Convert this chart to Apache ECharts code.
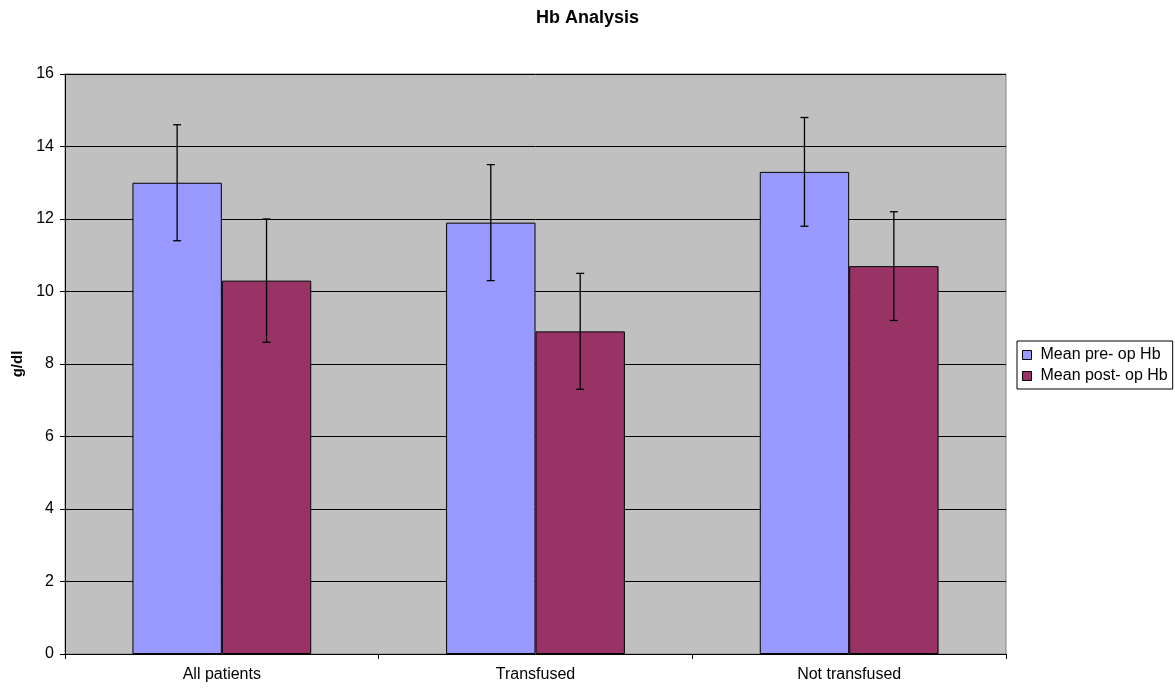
<!DOCTYPE html>
<html><head><meta charset="utf-8">
<script src="https://cdn.jsdelivr.net/npm/echarts@6/dist/echarts.min.js"></script>
<style>html,body{margin:0;padding:0;background:#fff}#c{width:1175px;height:688px}</style>
</head><body><div id="c"></div>
<script>
const categories = ['All patients', 'Transfused', 'Not transfused'];
const preOp = [13.0, 11.9, 13.3];
const preErr = [1.6, 1.6, 1.5];
const postOp = [10.3, 8.9, 10.7];
const postErr = [1.7, 1.6, 1.5];
const seriesNames = ['Mean pre- op Hb', 'Mean post- op Hb'];
const colors = ['#9999FF', '#993366'];
const CAT_GAP = 0.43;

const chart = echarts.init(document.getElementById('c'));
const FONT = 'Liberation Sans, Arial, sans-serif';

function errSeries(vals, errs, idx) {
  return {
    type: 'custom',
    z: 10,
    silent: true,
    data: vals.map((v, i) => [i, v, errs[i]]),
    renderItem: function (params, api) {
      const i = api.value(0), v = api.value(1), e = api.value(2);
      const band = api.size([1, 0])[0];
      const bw = band * (1 - CAT_GAP) / 2;
      const c = api.coord([i, v]);
      const x = c[0] + (idx === 0 ? -bw / 2 : bw / 2);
      const yt = api.coord([i, v + e])[1];
      const yb = api.coord([i, v - e])[1];
      const cap = 4;
      const st = { stroke: '#000', lineWidth: 1.3 };
      return { type: 'group', children: [
        { type: 'line', shape: { x1: x, y1: yt, x2: x, y2: yb }, style: st },
        { type: 'line', shape: { x1: x - cap, y1: yt, x2: x + cap, y2: yt }, style: st },
        { type: 'line', shape: { x1: x - cap, y1: yb, x2: x + cap, y2: yb }, style: st }
      ]};
    }
  };
}

chart.setOption({
  animation: false,
  textStyle: { fontFamily: FONT },
  title: { text: 'Hb Analysis', left: 'center', top: 4,
    textStyle: { fontSize: 18, fontWeight: 'bold', color: '#000', fontFamily: FONT } },
  grid: { left: 65, right: 169, top: 74, bottom: 34, show: true,
    backgroundColor: '#C0C0C0', borderColor: '#808080', borderWidth: 1 },
  legend: {
    orient: 'vertical', left: 1017, top: 341,
    data: seriesNames,
    borderColor: '#000', borderWidth: 1, padding: [5, 5, 4, 5],
    itemWidth: 9, itemHeight: 9, itemGap: 3, icon: 'rect',
    itemStyle: { borderColor: '#000', borderWidth: 1 },
    textStyle: { fontSize: 16, color: '#000', fontFamily: FONT, padding: [0, 0, 0, 4], lineHeight: 18 }
  },
  xAxis: {
    type: 'category', data: categories,
    axisLine: { lineStyle: { color: '#000' } },
    axisTick: { show: true, alignWithLabel: false, length: 5, lineStyle: { color: '#000' } },
    axisLabel: { fontSize: 16, color: '#000', margin: 13, fontFamily: FONT },
    splitLine: { show: false }
  },
  yAxis: {
    type: 'value', min: 0, max: 16, interval: 2,
    name: 'g/dl', nameLocation: 'middle', nameGap: 40, nameRotate: 90,
    nameTextStyle: { fontSize: 15, fontWeight: 'bold', color: '#000', fontFamily: FONT },
    axisLine: { show: true, lineStyle: { color: '#000' } },
    axisTick: { show: true, length: 5, lineStyle: { color: '#000' } },
    axisLabel: { fontSize: 16, color: '#000', margin: 11, fontFamily: FONT },
    splitLine: { show: true, lineStyle: { color: '#000', width: 1 } }
  },
  series: [
    { name: seriesNames[0], type: 'bar', data: preOp, barGap: '0%', barCategoryGap: (CAT_GAP * 100) + '%',
      itemStyle: { color: colors[0], borderColor: '#000', borderWidth: 1 } },
    { name: seriesNames[1], type: 'bar', data: postOp, barGap: '0%', barCategoryGap: (CAT_GAP * 100) + '%',
      itemStyle: { color: colors[1], borderColor: '#000', borderWidth: 1 } },
    errSeries(preOp, preErr, 0),
    errSeries(postOp, postErr, 1)
  ]
});
</script></body></html>
